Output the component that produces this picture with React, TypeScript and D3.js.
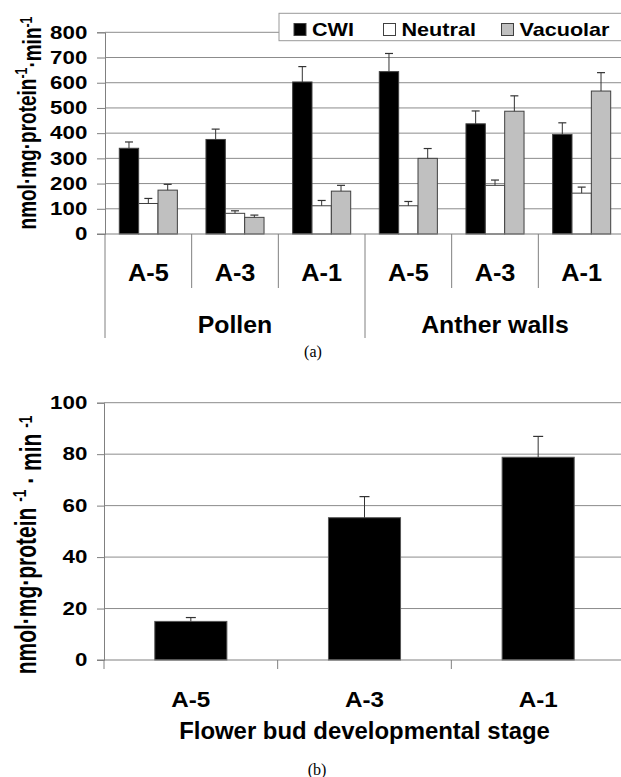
import React, { useEffect, useRef } from 'react';
import * as d3 from 'd3';

const stages = ['A-5', 'A-3', 'A-1'];
const tissues = ['Pollen', 'Anther walls'];
const seriesNames = ['CWI', 'Neutral', 'Vacuolar'];
const seriesColors = ['#000000', '#ffffff', '#c0c0c0'];

// panel (a): one value per tissue/stage (Pollen A-5..A-1, Anther walls A-5..A-1)
const cwiValues = [340, 375, 603, 644, 437, 395];
const cwiErrors = [25, 41, 61, 72, 51, 46];
const neutralValues = [121, 82, 112, 112, 193, 162];
const neutralErrors = [20, 10, 21, 17, 21, 24];
const vacuolarValues = [174, 66, 170, 300, 487, 567];
const vacuolarErrors = [23, 9, 23, 39, 61, 73];
const topTicks = [0, 100, 200, 300, 400, 500, 600, 700, 800];

// panel (b)
const budValues = [15, 55.3, 78.8];
const budErrors = [1.5, 8.2, 8.1];
const bottomTicks = [0, 20, 40, 60, 80, 100];

const FONT = "'Liberation Sans', Arial, sans-serif";
const GRID = '#8c8c8c';
const AXIS = '#808080';

const addText = (g, x, y, str, size, sx = 1, anchor = 'middle') =>
  g.append('text')
    .attr('transform', `translate(${x},${y}) scale(${sx},1)`)
    .attr('text-anchor', anchor)
    .style('font-family', FONT)
    .style('font-weight', 'bold')
    .style('font-size', size + 'px')
    .attr('fill', '#000')
    .text(str);

const addYTitle = (g, x, y, size, spaced) => {
  const t = g.append('text')
    .attr('transform', `translate(${x},${y}) scale(1.4,1) rotate(-90)`)
    .attr('text-anchor', 'middle')
    .style('font-family', FONT)
    .style('font-weight', 'bold')
    .style('font-size', size + 'px');
  t.append('tspan').text(spaced ? 'nmol·mg·protein ' : 'nmol·mg·protein');
  t.append('tspan').attr('dy', '-0.5em').style('font-size', '0.65em').text('-1');
  t.append('tspan').attr('dy', '0.5em').text(spaced ? ' · min ' : '·min');
  t.append('tspan').attr('dy', '-0.5em').style('font-size', '0.65em').text('-1');
};

const App = () => {
  const svgRef = useRef(null);

  useEffect(() => {
    const svg = d3.select(svgRef.current);
    svg.selectAll('*').remove();

    // ---------- panel (a) ----------
    const top = svg.append('g');
    const keys = tissues.flatMap(t => stages.map(s => `${t}|${s}`));
    const x0 = d3.scaleBand().domain(keys).range([105, 625]).paddingInner(0.33).paddingOuter(0.165);
    const x1 = d3.scaleBand().domain(seriesNames).range([0, x0.bandwidth()]);
    const y = d3.scaleLinear().domain([0, 800]).range([234, 32.3]);

    top.selectAll('.grid').data(topTicks.slice(1)).enter().append('line')
      .attr('x1', 105).attr('x2', 625)
      .attr('y1', d => y(d)).attr('y2', d => y(d))
      .attr('stroke', GRID).attr('stroke-width', 1);

    const yAxis = top.append('g')
      .attr('transform', 'translate(105,0)')
      .call(d3.axisLeft(y).tickValues(topTicks).tickSize(8));
    yAxis.select('.domain').attr('stroke', AXIS);
    yAxis.selectAll('.tick line').attr('stroke', AXIS);
    yAxis.selectAll('.tick text')
      .attr('x', -17.7 / 1.24)
      .attr('transform', 'scale(1.24,1)')
      .style('font-family', FONT).style('font-weight', 'bold').style('font-size', '18px')
      .attr('fill', '#000');

    const series = [
      { name: 'CWI', values: cwiValues, errors: cwiErrors },
      { name: 'Neutral', values: neutralValues, errors: neutralErrors },
      { name: 'Vacuolar', values: vacuolarValues, errors: vacuolarErrors },
    ];
    const color = d3.scaleOrdinal().domain(seriesNames).range(seriesColors);

    series.forEach(s => {
      const rows = keys.map((k, i) => ({ k, v: s.values[i], e: s.errors[i] }));
      const g = top.append('g');
      g.selectAll('rect').data(rows).enter().append('rect')
        .attr('x', d => x0(d.k) + x1(s.name))
        .attr('y', d => y(d.v))
        .attr('width', x1.bandwidth())
        .attr('height', d => y(0) - y(d.v))
        .attr('fill', color(s.name))
        .attr('stroke', '#404040').attr('stroke-width', 1);
      const cx = d => x0(d.k) + x1(s.name) + x1.bandwidth() / 2;
      g.selectAll('.err').data(rows).enter().append('line')
        .attr('x1', cx).attr('x2', cx)
        .attr('y1', d => y(d.v)).attr('y2', d => y(d.v + d.e))
        .attr('stroke', '#333').attr('stroke-width', 1);
      g.selectAll('.cap').data(rows).enter().append('line')
        .attr('x1', d => cx(d) - 4).attr('x2', d => cx(d) + 4)
        .attr('y1', d => y(d.v + d.e)).attr('y2', d => y(d.v + d.e))
        .attr('stroke', '#333').attr('stroke-width', 1.2);
    });

    // baseline and category separators
    top.append('line').attr('x1', 97).attr('x2', 625).attr('y1', y(0)).attr('y2', y(0)).attr('stroke', AXIS);
    d3.range(keys.length + 1).forEach(i => {
      const xx = 105 + i * x0.step();
      top.append('line').attr('x1', xx).attr('x2', xx)
        .attr('y1', y(0)).attr('y2', i % 3 === 0 ? 338 : 288)
        .attr('stroke', AXIS);
    });
    keys.forEach(k => addText(top, x0(k) + x0.bandwidth() / 2, 280.5, k.split('|')[1], 23, 1.1));
    tissues.forEach((t, i) => {
      const mid = 105 + (i * 3 + 1.5) * x0.step();
      addText(top, mid, 333, t, 23, 1.08);
    });

    // legend
    const leg = top.append('g');
    leg.append('rect').attr('x', 279).attr('y', 13.3).attr('width', 360).attr('height', 27.4)
      .attr('fill', '#fff').attr('stroke', '#999');
    const legX = [294, 383.5, 501.5];
    seriesNames.forEach((n, i) => {
      leg.append('rect').attr('x', legX[i]).attr('y', 23.5).attr('width', 12).attr('height', 12)
        .attr('fill', color(n)).attr('stroke', '#404040');
      addText(leg, legX[i] + 18, 35.9, n, 18, 1.2, 'start');
    });

    addYTitle(top, 36, 123, 19, false);

    svg.append('text').attr('x', 313).attr('y', 357).attr('text-anchor', 'middle')
      .style('font-family', "'Liberation Serif', 'Times New Roman', serif").style('font-size', '16px')
      .text('(a)');

    // ---------- panel (b) ----------
    const bot = svg.append('g');
    const xb = d3.scaleBand().domain(stages).range([104, 625]).paddingInner(0.585).paddingOuter(0.2925);
    const yb = d3.scaleLinear().domain([0, 100]).range([660, 402.7]);

    bot.selectAll('.grid').data(bottomTicks.slice(1)).enter().append('line')
      .attr('x1', 104).attr('x2', 625)
      .attr('y1', d => yb(d)).attr('y2', d => yb(d))
      .attr('stroke', GRID).attr('stroke-width', 1);

    const ybAxis = bot.append('g')
      .attr('transform', 'translate(104,0)')
      .call(d3.axisLeft(yb).tickValues(bottomTicks).tickSize(7));
    ybAxis.select('.domain').attr('stroke', AXIS);
    ybAxis.selectAll('.tick line').attr('stroke', AXIS);
    ybAxis.selectAll('.tick text')
      .attr('x', -16.7 / 1.24)
      .attr('transform', 'scale(1.24,1)')
      .style('font-family', FONT).style('font-weight', 'bold').style('font-size', '18px')
      .attr('fill', '#000');

    const brows = stages.map((s, i) => ({ s, v: budValues[i], e: budErrors[i] }));
    bot.selectAll('.bar').data(brows).enter().append('rect')
      .attr('x', d => xb(d.s)).attr('y', d => yb(d.v))
      .attr('width', xb.bandwidth()).attr('height', d => yb(0) - yb(d.v))
      .attr('fill', '#000').attr('stroke', '#555').attr('stroke-width', 1);
    const bcx = d => xb(d.s) + xb.bandwidth() / 2;
    bot.selectAll('.err').data(brows).enter().append('line')
      .attr('x1', bcx).attr('x2', bcx)
      .attr('y1', d => yb(d.v)).attr('y2', d => yb(d.v + d.e))
      .attr('stroke', '#333');
    bot.selectAll('.cap').data(brows).enter().append('line')
      .attr('x1', d => bcx(d) - 5).attr('x2', d => bcx(d) + 5)
      .attr('y1', d => yb(d.v + d.e)).attr('y2', d => yb(d.v + d.e))
      .attr('stroke', '#333').attr('stroke-width', 1.2);

    bot.append('line').attr('x1', 97).attr('x2', 625).attr('y1', yb(0)).attr('y2', yb(0)).attr('stroke', AXIS);
    d3.range(stages.length + 1).forEach(i => {
      const xx = 104 + i * xb.step();
      bot.append('line').attr('x1', xx).attr('x2', xx).attr('y1', yb(0)).attr('y2', 669).attr('stroke', AXIS);
    });
    stages.forEach(s => addText(bot, xb(s) + xb.bandwidth() / 2, 707, s, 22, 1.1));
    addText(bot, 364.5, 739, 'Flower bud developmental stage', 23, 1.04);

    addYTitle(bot, 36, 545, 21, true);

    svg.append('text').attr('x', 317).attr('y', 775).attr('text-anchor', 'middle')
      .style('font-family', "'Liberation Serif', 'Times New Roman', serif").style('font-size', '16px')
      .text('(b)');
  }, []);

  return (
    <div style={{ position: 'absolute', left: 0, top: 0 }}>
      <svg ref={svgRef} width={621} height={777} style={{ display: 'block', background: '#fff' }} />
    </div>
  );
};

export default App;
